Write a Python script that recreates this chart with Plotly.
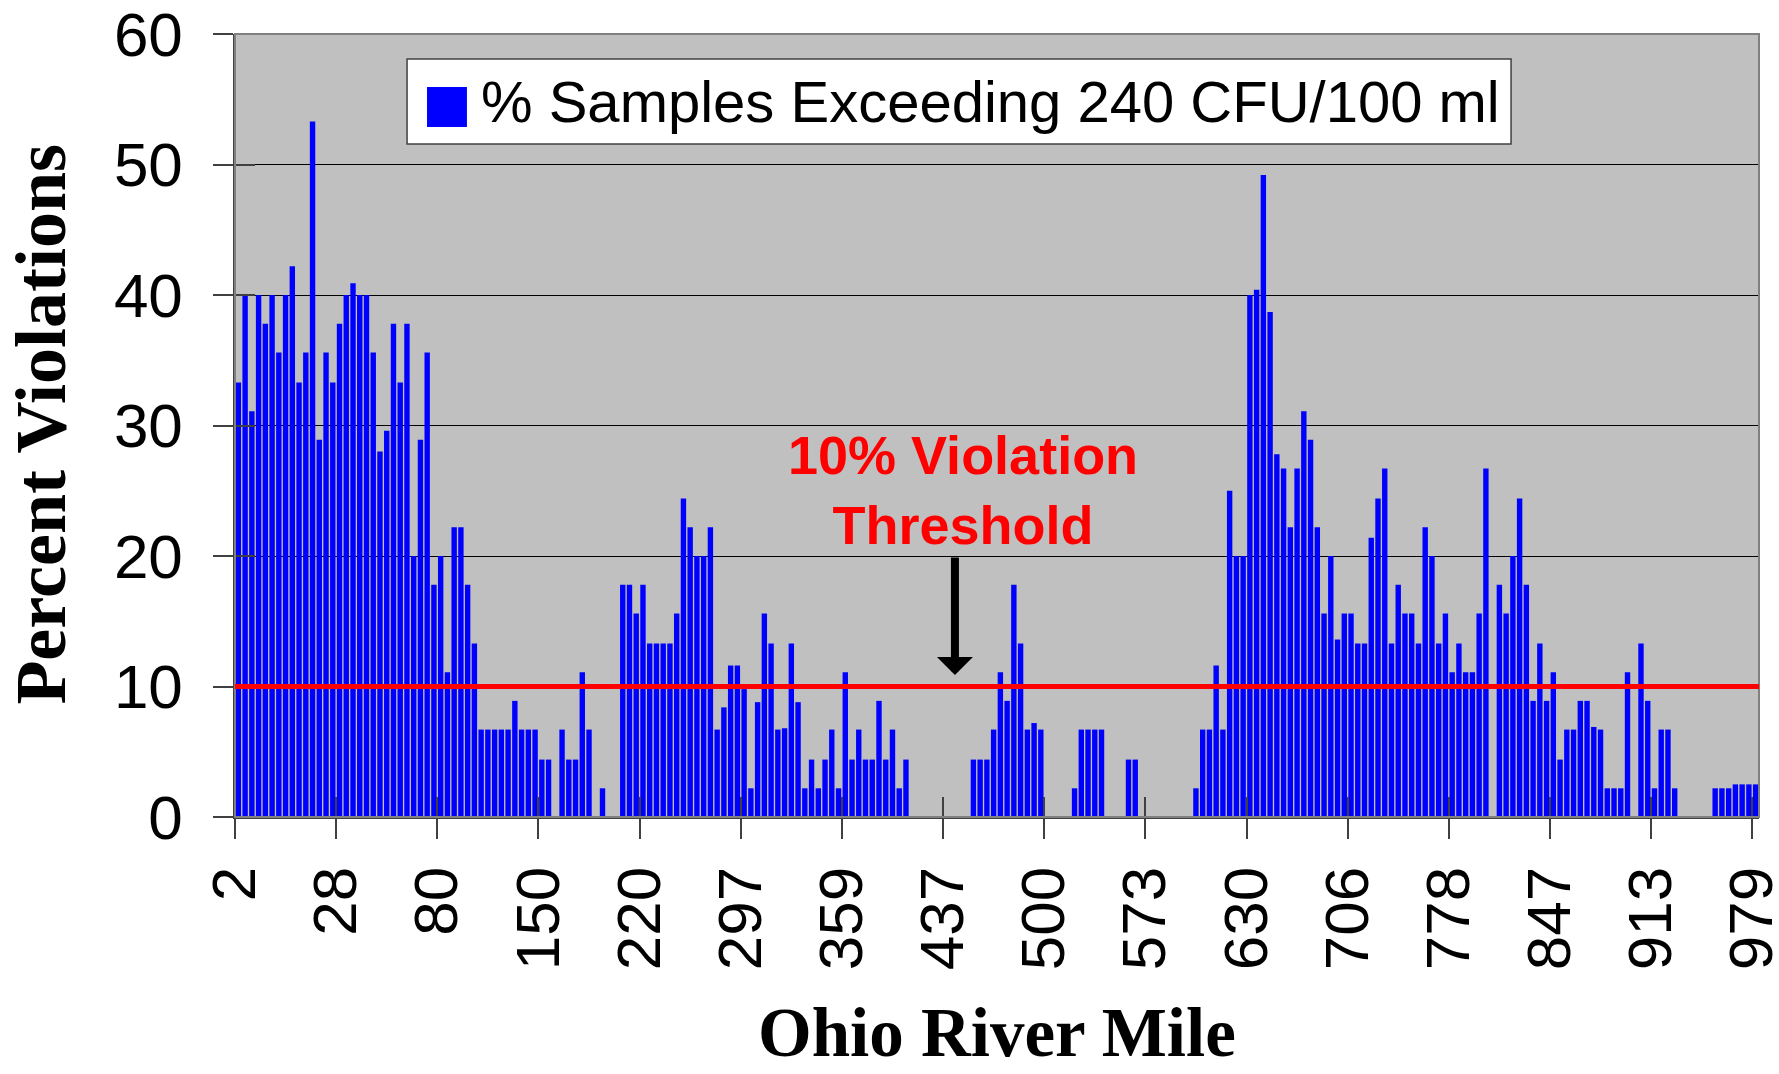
import plotly.graph_objects as go

# percent of samples exceeding 240 CFU/100 ml, one value per sampling station (upstream -> downstream)
pct_exceed = [
    33.3, 40.0, 31.1, 40.0, 37.8, 40.0, 35.6, 40.0, 42.2, 33.3, 35.6, 53.3, 28.9, 35.6, 33.3,
    37.8, 40.0, 40.9, 40.0, 40.0, 35.6, 28.0, 29.6, 37.8, 33.3, 37.8, 20.0, 28.9, 35.6, 17.8,
    20.0, 11.1, 22.2, 22.2, 17.8, 13.3, 6.7, 6.7, 6.7, 6.7, 6.7, 8.9, 6.7, 6.7, 6.7,
    4.4, 4.4, 0, 6.7, 4.4, 4.4, 11.1, 6.7, 0, 2.2, 0, 0, 17.8, 17.8, 15.6,
    17.8, 13.3, 13.3, 13.3, 13.3, 15.6, 24.4, 22.2, 20.0, 20.0, 22.2, 6.7, 8.4, 11.6, 11.6,
    9.8, 2.2, 8.8, 15.6, 13.3, 6.7, 6.8, 13.3, 8.8, 2.2, 4.4, 2.2, 4.4, 6.7, 2.2,
    11.1, 4.4, 6.7, 4.4, 4.4, 8.9, 4.4, 6.7, 2.2, 4.4, 0, 0, 0, 0, 0,
    0, 0, 0, 0, 4.4, 4.4, 4.4, 6.7, 11.1, 8.9, 17.8, 13.3, 6.7, 7.2, 6.7,
    0, 0, 0, 0, 2.2, 6.7, 6.7, 6.7, 6.7, 0, 0, 0, 4.4, 4.4, 0,
    0, 0, 0, 0, 0, 0, 0, 2.2, 6.7, 6.7, 11.6, 6.7, 25.0, 20.0, 20.0,
    40.0, 40.4, 49.2, 38.7, 27.8, 26.7, 22.2, 26.7, 31.1, 28.9, 22.2, 15.6, 20.0, 13.6, 15.6,
    15.6, 13.3, 13.3, 21.4, 24.4, 26.7, 13.3, 17.8, 15.6, 15.6, 13.3, 22.2, 20.0, 13.3, 15.6,
    11.1, 13.3, 11.1, 11.1, 15.6, 26.7, 0, 17.8, 15.6, 20.0, 24.4, 17.8, 8.9, 13.3, 8.9,
    11.1, 4.4, 6.7, 6.7, 8.9, 8.9, 6.9, 6.7, 2.2, 2.2, 2.2, 11.1, 0, 13.3, 8.9,
    2.2, 6.7, 6.7, 2.2, 0, 0, 0, 0, 0, 2.2, 2.2, 2.2, 2.5, 2.5, 2.5, 2.5,
]
station = list(range(len(pct_exceed)))

# river mile shown every 15th station
mile_labels = ["2", "28", "80", "150", "220", "297", "359", "437", "500",
               "573", "630", "706", "778", "847", "913", "979"]
label_every = 15
mile_tickvals = [i * label_every - 0.5 for i in range(len(mile_labels))]

threshold = 10
legend_name = "% Samples Exceeding 240 CFU/100 ml"

sans = "Arial, Liberation Sans, sans-serif"
serif = "Times New Roman, Liberation Serif, serif"
axis_grey = "#404040"

fig = go.Figure()

fig.add_trace(go.Bar(x=station, y=pct_exceed, name=legend_name,
                     marker=dict(color="#0000ff", line=dict(width=0)),
                     showlegend=False))

# empty trace so the overlay axes (inside half of the crossing ticks) get drawn
fig.add_trace(go.Scatter(x=[], y=[], xaxis="x2", yaxis="y2",
                         showlegend=False, hoverinfo="skip"))

xrange = [-0.5, len(pct_exceed) - 0.5]

fig.update_layout(
    width=1779, height=1074,
    margin=dict(l=235, r=20, t=34, b=257),
    paper_bgcolor="#ffffff", plot_bgcolor="#c0c0c0",
    bargap=0.2,
    font=dict(family=sans, color="#000000"),
    xaxis=dict(range=xrange, tickmode="array", tickvals=mile_tickvals, ticktext=mile_labels,
               tickangle=-90, ticks="outside", ticklen=20, tickwidth=1.5, tickcolor=axis_grey,
               tickfont=dict(family=sans, size=62), ticklabelstandoff=3, ticklabeloverflow="allow",
               automargin=False,
               showgrid=False, zeroline=False, showline=True, linecolor=axis_grey, linewidth=2),
    yaxis=dict(range=[0, 60], tickmode="linear", tick0=0, dtick=10,
               ticks="outside", ticklen=20, tickwidth=1.5, tickcolor=axis_grey,
               tickfont=dict(family=sans, size=62), ticklabelstandoff=18, ticklabeloverflow="allow",
               automargin=False,
               showgrid=True, gridcolor="#000000", gridwidth=1,
               zeroline=False, showline=True, linecolor=axis_grey, linewidth=1.5),
    xaxis2=dict(overlaying="x", anchor="y2", range=xrange, tickmode="array", tickvals=mile_tickvals,
                ticks="inside", ticklen=20, tickwidth=1.5, tickcolor=axis_grey, automargin=False,
                showticklabels=False, showgrid=False, zeroline=False, showline=False),
    yaxis2=dict(overlaying="y", anchor="x2", range=[0, 60], tickmode="linear", tick0=0, dtick=10,
                ticks="inside", ticklen=20, tickwidth=1.5, tickcolor=axis_grey, automargin=False,
                showticklabels=False, showgrid=False, zeroline=False, showline=False),
)

# grey frame of the plot area
fig.add_shape(type="rect", xref="paper", yref="paper", x0=0, x1=1, y0=0, y1=1,
              line=dict(color="#808080", width=2), layer="above")

# 10 % threshold line
fig.add_hline(y=threshold, line=dict(color="#ff0000", width=5), layer="above")

# legend box drawn by hand (Excel style, big swatch)
fig.add_shape(type="rect", xref="paper", yref="paper", x0=0.1129, x1=0.8373, y0=0.8595, y1=0.968,
              fillcolor="#ffffff", line=dict(color=axis_grey, width=1.5), layer="above")
fig.add_shape(type="rect", xref="paper", yref="paper", x0=0.1260, x1=0.1522, y0=0.8812, y1=0.9323,
              fillcolor="#0000ff", line=dict(width=0), layer="above")
fig.add_annotation(xref="paper", yref="paper", x=0.1601, y=0.9138, xanchor="left", yanchor="middle",
                   text=legend_name, showarrow=False, font=dict(family=sans, size=58, color="#000000"))

# threshold label and arrow
fig.add_annotation(xref="paper", yref="paper", x=0.478, y=0.4176, xanchor="center", yanchor="middle",
                   text="<b>10% Violation<br>Threshold</b>", showarrow=False, align="center",
                   font=dict(family=sans, size=54, color="#ff0000"))
fig.add_annotation(xref="paper", yref="paper", x=0.4724, y=0.1814, text="", showarrow=True,
                   ax=0, ay=-119, arrowhead=1, arrowsize=0.75, arrowwidth=8,
                   arrowcolor="#000000", standoff=0)

# axis titles
fig.add_annotation(xref="paper", yref="paper", x=0.5, y=-0.3275, xanchor="center", yanchor="bottom",
                   text="<b>Ohio River Mile</b>", showarrow=False,
                   font=dict(family=serif, size=69, color="#000000"))
fig.add_annotation(xref="paper", yref="paper", x=-0.1275, y=0.502, xanchor="center", yanchor="middle",
                   text="<b>Percent Violations</b>", showarrow=False, textangle=-90,
                   font=dict(family=serif, size=72, color="#000000"))

# drop the default body margin so the figure sits at the page origin
fig.write_html("out.html", config={"displayModeBar": False},
               post_script="document.body.style.margin = '0';")
